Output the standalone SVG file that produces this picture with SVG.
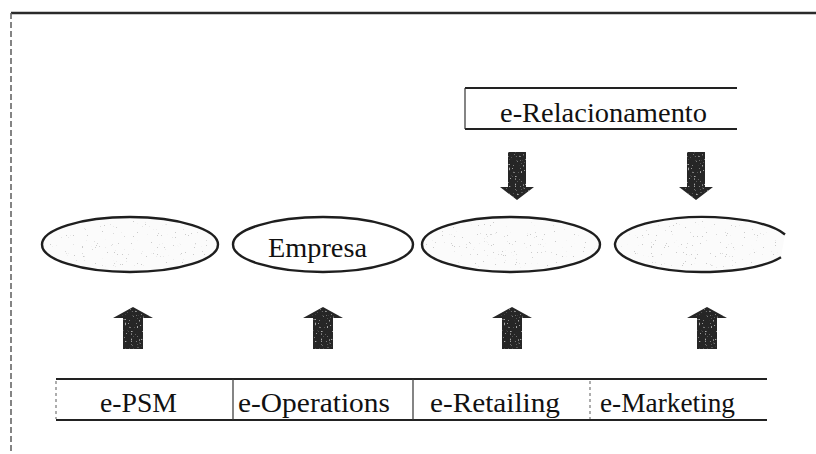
<svg xmlns="http://www.w3.org/2000/svg" width="816" height="454" viewBox="0 0 816 454">
  <defs>
    <!-- sparse grey grain used inside the ellipses -->
    <filter id="grain" x="0" y="0" width="100%" height="100%">
      <feTurbulence type="fractalNoise" baseFrequency="0.9" numOctaves="2" seed="7" result="n"/>
      <feColorMatrix in="n" type="matrix" values="0 0 0 0 0.6  0 0 0 0 0.6  0 0 0 0 0.6  -22 0 0 0 5.9" result="dots"/>
      <feComposite in="dots" in2="SourceAlpha" operator="in"/>
    </filter>
    <!-- lighter mottling on the dark block arrows -->
    <filter id="mottle" x="0" y="0" width="100%" height="100%">
      <feTurbulence type="fractalNoise" baseFrequency="0.5" numOctaves="2" seed="2" result="n"/>
      <feColorMatrix in="n" type="matrix" values="0 0 0 0 0.6  0 0 0 0 0.6  0 0 0 0 0.6  -12 0 0 0 4.0" result="dots"/>
      <feComposite in="dots" in2="SourceAlpha" operator="in"/>
    </filter>
    <path id="arrowUp" d="M-20,11 L0,0 L20,11 L10,11 L10,42 L-10,42 L-10,11 Z"/>
    <path id="arrowDown" d="M-9,0 L9,0 L9,35 L17,35 L0,48 L-17,35 L-9,35 Z"/>
  </defs>
  <style>
    .frame { stroke: #2a2a2a; stroke-width: 2.5; fill: none; }
    .frame-side { stroke: #666; stroke-width: 1.6; stroke-dasharray: 6 3; fill: none; }
    .rule { stroke: #222; stroke-width: 2; fill: none; }
    .rule-thin { stroke: #333; stroke-width: 1.2; fill: none; }
    .rule-dot { stroke: #777; stroke-width: 1.2; stroke-dasharray: 3 3; fill: none; }
    .oval { fill: #fbfbfb; stroke: #1e1e1e; stroke-width: 2.4; }
    .plain { fill: #fff; stroke: #1e1e1e; stroke-width: 2.4; }
    .grain { fill: #000; filter: url(#grain); }
    .blk { fill: #262626; }
    .blk-tex { fill: #000; filter: url(#mottle); opacity: 0.8; }
    .lbl { font-family: "Liberation Serif", "Times New Roman", serif; font-size: 28px; fill: #111; }
  </style>

  <rect width="816" height="454" fill="#fff"/>

  <!-- page frame -->
  <g id="frame">
    <line class="frame" x1="11" y1="13" x2="816" y2="13"/>
    <line class="frame-side" x1="11" y1="13" x2="11" y2="454"/>
  </g>

  <!-- top relationship band -->
  <g id="e-relacionamento">
    <line class="rule" x1="465" y1="88" x2="737" y2="88"/>
    <line class="rule" x1="465" y1="129" x2="737" y2="129"/>
    <line class="rule-thin" x1="465" y1="88" x2="465" y2="129"/>
    <text class="lbl" x="500" y="122" textLength="207" lengthAdjust="spacingAndGlyphs">e-Relacionamento</text>
  </g>

  <!-- ellipses -->
  <g id="oval-1">
    <ellipse class="oval" cx="130" cy="244.5" rx="88" ry="27.5"/>
    <ellipse class="grain" cx="130" cy="244.5" rx="84" ry="24"/>
  </g>
  <g id="empresa">
    <ellipse class="plain" cx="323" cy="244.5" rx="90" ry="27.5"/>
    <text class="lbl" x="268" y="256.5" textLength="99" lengthAdjust="spacingAndGlyphs">Empresa</text>
  </g>
  <g id="oval-3">
    <ellipse class="oval" cx="511" cy="244.5" rx="89" ry="27.5"/>
    <ellipse class="grain" cx="511" cy="244.5" rx="85" ry="24"/>
  </g>
  <g id="oval-4">
    <path class="oval" d="M785,234.5 A88,27.5 0 1 0 781,257.2"/>
    <ellipse class="grain" cx="703" cy="244.5" rx="82" ry="24"/>
  </g>

  <!-- bottom band of e-business areas -->
  <g id="bottom-band">
    <line class="rule" x1="56" y1="379" x2="767" y2="379"/>
    <line class="rule" x1="56" y1="420" x2="767" y2="420"/>
    <line class="rule-dot" x1="56" y1="381" x2="56" y2="419"/>
  </g>
  <g id="e-psm">
    <text class="lbl" x="100" y="411.5" textLength="77" lengthAdjust="spacingAndGlyphs">e-PSM</text>
  </g>
  <g id="e-operations">
    <line class="rule-thin" x1="233" y1="379" x2="233" y2="420"/>
    <text class="lbl" x="238" y="411.5" textLength="152" lengthAdjust="spacingAndGlyphs">e-Operations</text>
  </g>
  <g id="e-retailing">
    <line class="rule-thin" x1="413" y1="379" x2="413" y2="420"/>
    <text class="lbl" x="430" y="411.5" textLength="130" lengthAdjust="spacingAndGlyphs">e-Retailing</text>
  </g>
  <g id="e-marketing">
    <line class="rule-dot" x1="590" y1="381" x2="590" y2="419"/>
    <text class="lbl" x="600" y="411.5" textLength="135" lengthAdjust="spacingAndGlyphs">e-Marketing</text>
  </g>

  <!-- block arrows -->
  <g id="connectors">
    <g transform="translate(133,307)"><use href="#arrowUp" class="blk"/><use href="#arrowUp" class="blk-tex"/></g>
    <g transform="translate(323,307)"><use href="#arrowUp" class="blk"/><use href="#arrowUp" class="blk-tex"/></g>
    <g transform="translate(512,307)"><use href="#arrowUp" class="blk"/><use href="#arrowUp" class="blk-tex"/></g>
    <g transform="translate(707,307)"><use href="#arrowUp" class="blk"/><use href="#arrowUp" class="blk-tex"/></g>
    <g transform="translate(517,152)"><use href="#arrowDown" class="blk"/><use href="#arrowDown" class="blk-tex"/></g>
    <g transform="translate(696,152)"><use href="#arrowDown" class="blk"/><use href="#arrowDown" class="blk-tex"/></g>
  </g>
</svg>
